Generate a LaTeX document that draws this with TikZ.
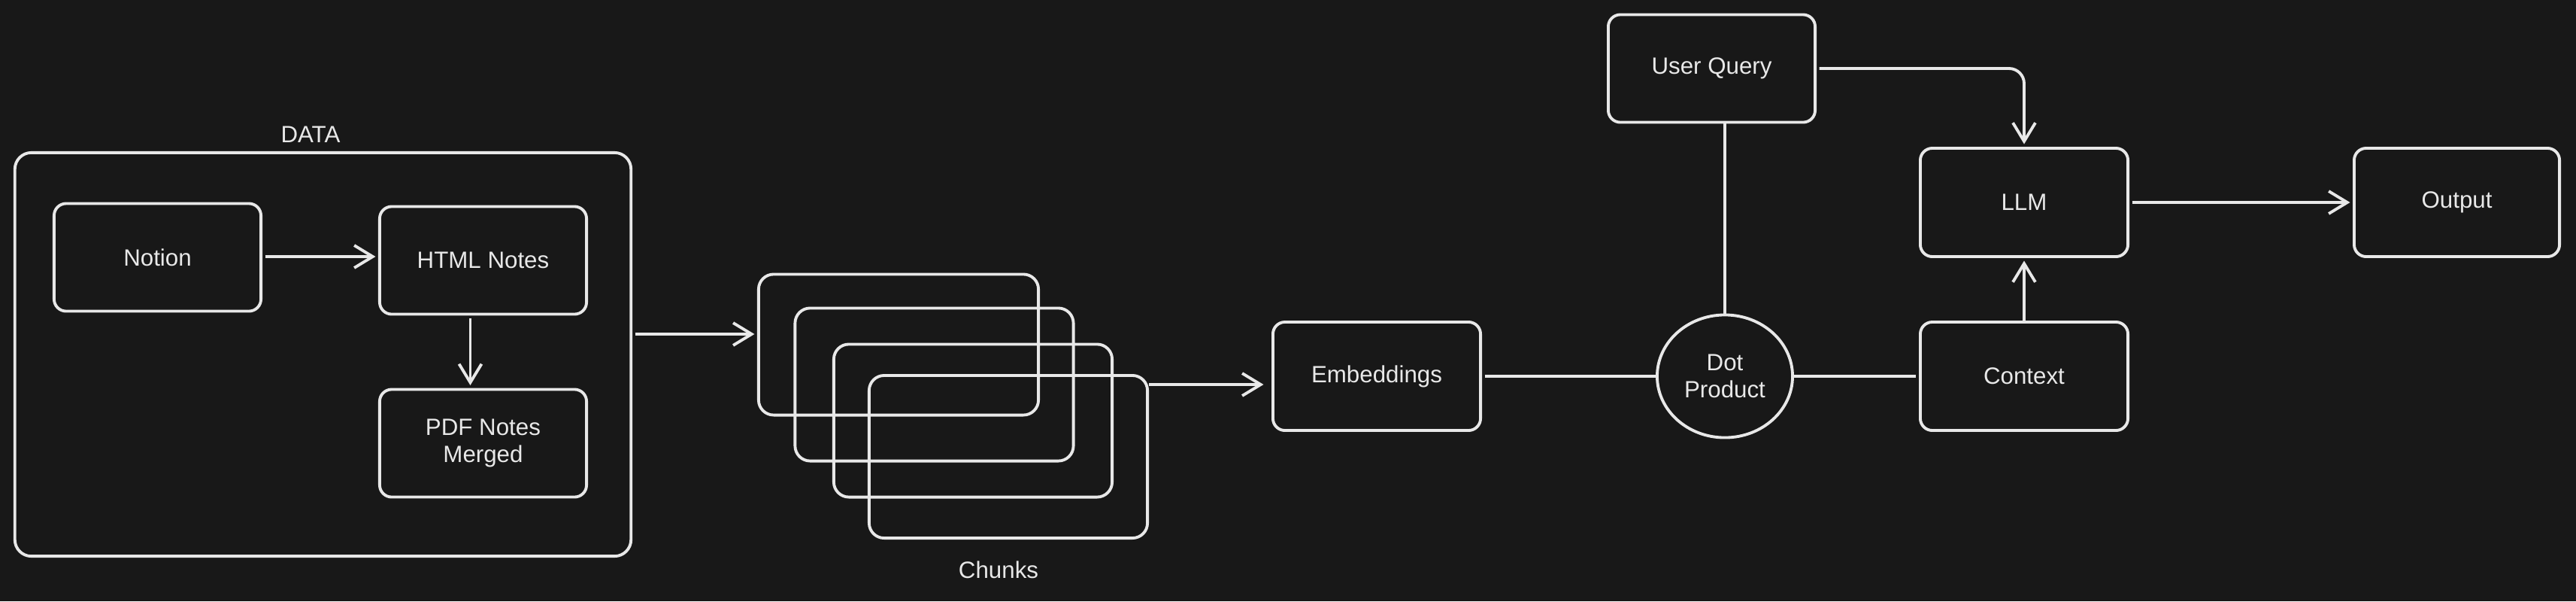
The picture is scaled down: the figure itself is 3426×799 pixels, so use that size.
\documentclass[tikz,border=0pt]{standalone}
\usepackage{fontspec}
\setmainfont{Liberation Sans}
\usetikzlibrary{arrows.meta,shapes.geometric}
\definecolor{bgc}{RGB}{24,24,24}
\definecolor{fgc}{RGB}{232,232,232}
\begin{document}
\begin{tikzpicture}[x=0.01cm,y=-0.01cm,
  every node/.style={text=fgc,font=\fontsize{8.9}{10.2}\selectfont},
  box/.style={draw=fgc,line width=1.1pt,rounded corners=0.16cm,minimum width=2.75cm,minimum height=1.43cm,align=center,inner sep=0pt},
  chunkbox/.style={draw=fgc,line width=1.1pt,rounded corners=0.2cm,inner sep=0pt},
  arr/.style={draw=fgc,line width=1.1pt,-{Straight Barb[length=7pt,width=8.5pt,line width=1.1pt]}},
  ln/.style={draw=fgc,line width=1.1pt},
  lbl/.style={inner sep=0pt}]
\fill[bgc] (0,0) rectangle (3426,799);
\useasboundingbox (0,0) rectangle (3426,799);
% DATA group
\node[chunkbox,rounded corners=0.22cm,minimum width=8.19cm,minimum height=5.36cm] (data) at (429.5,471) {};
\node[lbl] (datalbl) at (413,179) {DATA};
\node[box] (notion) at (209.5,342) {Notion};
\node[box] (html) at (642.5,346) {HTML Notes};
\node[box] (pdf) at (642.5,589) {PDF Notes\\Merged};
% chunks
\node[chunkbox,minimum width=3.72cm,minimum height=1.87cm] (c1) at (1195,458) {};
\node[chunkbox,minimum width=3.70cm,minimum height=2.03cm] (c2) at (1242.5,511) {};
\node[chunkbox,minimum width=3.70cm,minimum height=2.03cm] (c3) at (1294,559) {};
\node[chunkbox,minimum width=3.70cm,minimum height=2.16cm] (c4) at (1341,607) {};
\node[lbl] (chunkslbl) at (1328,757) {Chunks};
% right part
\node[box,minimum width=2.76cm,minimum height=1.44cm] (emb) at (1831,500) {Embeddings};
\node[draw=fgc,line width=1.1pt,ellipse,minimum width=1.80cm,minimum height=1.63cm,align=center,inner sep=0pt] (dot) at (2294,500) {Dot\\Product};
\node[box] (uq) at (2276.5,91) {User Query};
\node[box,minimum width=2.76cm,minimum height=1.44cm] (llm) at (2692,269) {LLM};
\node[box,minimum width=2.76cm,minimum height=1.44cm] (ctx) at (2692,500) {Context};
\node[box,minimum width=2.73cm,minimum height=1.44cm] (out) at (3267.5,269) {Output};
% connectors
\draw[arr,shorten <=1pt,shorten >=1pt] ([yshift=0.01cm]notion.east) -- ([yshift=0.01cm]notion.east -| html.west);
\draw[arr,shorten <=1pt,shorten >=1pt] ([xshift=-0.17cm]html.south) -- ([xshift=-0.17cm]pdf.north);
\draw[arr,shorten <=1pt,shorten >=1pt] ([yshift=0.14cm]c1.west -| data.east) -- ([yshift=0.14cm]c1.west);
\draw[arr,shorten >=3pt] ([yshift=-0.11cm]emb.west -| c4.east) -- ([yshift=-0.11cm]emb.west);
\draw[ln,shorten <=1pt] (emb.east) -- (dot.west);
\draw[ln,shorten >=1pt] (dot.east) -- (ctx.west);
\draw[ln] (dot.north) -- (dot.north |- uq.south);
\draw[arr,rounded corners=0.2cm,shorten <=1pt,shorten >=1pt] (uq.east) -| (llm.north);
\draw[arr,shorten >=1pt] (ctx.north) -- (llm.south);
\draw[arr,shorten <=1pt,shorten >=1pt] (llm.east) -- (out.west);
\end{tikzpicture}
\end{document}
